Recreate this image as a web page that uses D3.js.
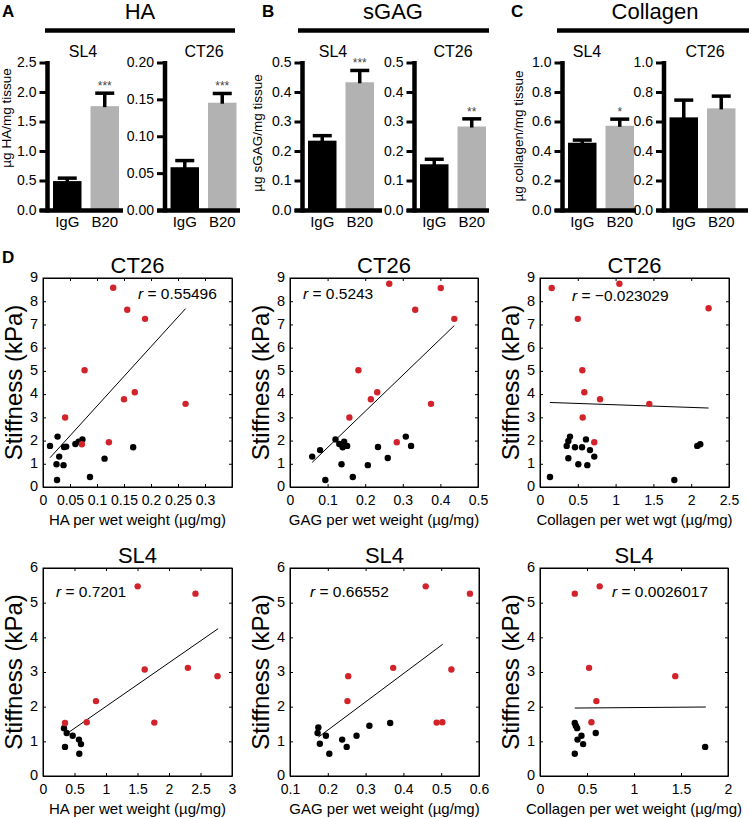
<!DOCTYPE html>
<html><head><meta charset="utf-8">
<script src="https://cdn.jsdelivr.net/npm/d3@7"></script>
<style>
body{margin:0;background:#fff;}
svg{display:block;font-family:"Liberation Sans",Arial,Helvetica,sans-serif;}
</style></head><body>
<svg id="c" width="749" height="819"></svg>
<script>
// ---------------- DATA: bar charts (A–C) ----------------
const groups = ["IgG", "B20"];
const haSL4 = [0.49, 1.76],   haSL4Err = [0.05, 0.22];
const haCT26 = [0.058, 0.1455], haCT26Err = [0.009, 0.0125];
const gagSL4 = [0.235, 0.433], gagSL4Err = [0.017, 0.04];
const gagCT26 = [0.155, 0.283], gagCT26Err = [0.017, 0.026];
const colSL4 = [0.456, 0.571], colSL4Err = [0.018, 0.045];
const colCT26 = [0.628, 0.689], colCT26Err = [0.117, 0.083];
const haSL4Stars = ["", "***"], haCT26Stars = ["", "***"];
const gagSL4Stars = ["", "***"], gagCT26Stars = ["", "**"];
const colSL4Stars = ["", "*"], colCT26Stars = ["", ""];
const haSL4Ticks = [0, 0.5, 1, 1.5, 2, 2.5];
const haCT26Ticks = [0, 0.05, 0.10, 0.15, 0.20];
const gagTicks = [0, 0.1, 0.2, 0.3, 0.4, 0.5];
const colTicks = [0, 0.2, 0.4, 0.6, 0.8, 1.0];

// ---------------- DATA: scatter plots (D) ----------------
const ct26YTicks = [0,1,2,3,4,5,6,7,8,9];
const sl4YTicks = [0,1,2,3,4,5,6];
const ct26HaTicks = [0, 0.05, 0.1, 0.15, 0.2, 0.25, 0.3];
const ct26GagTicks = [0, 0.1, 0.2, 0.3, 0.4, 0.5];
const ct26ColTicks = [0, 0.5, 1, 1.5, 2, 2.5];
const sl4HaTicks = [0, 0.5, 1, 1.5, 2, 2.5, 3];
const sl4GagTicks = [0.1, 0.2, 0.3, 0.4, 0.5, 0.6];
const sl4ColTicks = [0, 0.5, 1, 1.5, 2];

const ct26HaIgG = [[0.013,1.77],[0.027,2.17],[0.030,1.31],[0.025,0.98],[0.026,0.30],[0.038,0.94],[0.039,1.72],[0.043,1.74],[0.060,1.85],[0.066,1.95],[0.073,2.05],[0.087,0.43],[0.114,1.22],[0.167,1.71]];
const ct26HaB20 = [[0.130,8.58],[0.156,7.63],[0.189,7.24],[0.077,5.03],[0.041,2.99],[0.072,1.84],[0.122,1.93],[0.150,3.78],[0.170,4.08],[0.264,3.58]];
const ct26HaFit = [[0.013,1.26],[0.264,7.68]];

const ct26GagIgG = [[0.059,1.31],[0.080,1.59],[0.094,0.30],[0.121,2.05],[0.131,1.85],[0.137,0.98],[0.140,1.71],[0.144,1.95],[0.152,1.77],[0.167,0.43],[0.207,0.94],[0.234,1.72],[0.260,1.25],[0.308,2.17],[0.322,1.77]];
const ct26GagB20 = [[0.264,8.75],[0.401,8.57],[0.333,7.63],[0.437,7.24],[0.182,5.03],[0.232,4.08],[0.215,3.78],[0.158,2.99],[0.375,3.58],[0.284,1.93]];
const ct26GagFit = [[0.059,1.06],[0.437,6.95]];

const ct26ColIgG = [[0.132,0.43],[0.353,1.77],[0.375,1.98],[0.397,2.17],[0.375,1.24],[0.463,1.71],[0.507,0.98],[0.556,1.71],[0.608,2.05],[0.626,0.94],[0.661,1.59],[0.718,1.31],[1.777,0.30],[2.08,1.77],[2.12,1.84]];
const ct26ColB20 = [[0.155,8.57],[1.05,8.75],[2.23,7.7],[0.50,7.24],[0.56,5.03],[0.586,4.08],[0.794,3.78],[1.446,3.58],[0.565,2.99],[0.718,1.93]];
const ct26ColFit = [[0.13,3.64],[2.23,3.40]];

const sl4HaIgG = [[0.333,1.38],[0.376,1.24],[0.349,0.84],[0.471,1.16],[0.571,1.05],[0.603,0.92],[0.576,0.64]];
const sl4HaB20 = [[0.349,1.53],[0.694,1.55],[0.841,2.16],[1.503,5.47],[1.614,3.07],[1.767,1.54],[2.30,3.12],[2.42,5.26],[2.77,2.88]];
const sl4HaFit = [[0.376,1.22],[2.78,4.25]];

const sl4GagIgG = [[0.173,1.24],[0.175,1.40],[0.179,0.93],[0.195,1.16],[0.204,0.64],[0.238,1.05],[0.250,0.84],[0.276,1.16],[0.310,1.45],[0.365,1.53]];
const sl4GagB20 = [[0.254,2.88],[0.252,2.16],[0.373,3.12],[0.459,5.47],[0.488,1.54],[0.503,1.55],[0.527,3.07],[0.576,5.26]];
const sl4GagFit = [[0.175,1.12],[0.504,3.80]];

const sl4ColIgG = [[0.370,1.53],[0.381,1.45],[0.395,1.38],[0.399,1.05],[0.370,0.64],[0.441,1.16],[0.459,0.92],[0.593,1.24],[1.757,0.84]];
const sl4ColB20 = [[0.370,5.26],[0.635,5.47],[0.522,3.12],[0.600,2.16],[0.547,1.55],[1.439,2.88]];
const sl4ColFit = [[0.370,1.96],[1.764,1.99]];

const rValues = ["0.55496", "0.5243", "\u22120.023029", "0.7201", "0.66552", "0.0026017"];

// ---------------- DRAWING ----------------
const svg = d3.select("#c");
const FONT = '"Liberation Sans",Arial,Helvetica,sans-serif';
const RED = "#d2232a";

function txt(g, x, y, s, size, anchor, weight) {
  return g.append("text").attr("x", x).attr("y", y).text(s)
    .attr("font-size", size).attr("text-anchor", anchor || "start")
    .attr("font-weight", weight || "normal").attr("fill", "#000");
}

function barChart(o) {
  const g = svg.append("g");
  const y = d3.scaleLinear().domain([0, o.max]).range([210, 62.5]);
  const x = d3.scaleBand().domain(groups).range([o.axisX, o.axisX + 77])
    .paddingInner(0.24).paddingOuter(0.147);
  g.selectAll("rect.bar").data(groups).join("rect")
    .attr("x", d => x(d)).attr("width", x.bandwidth())
    .attr("y", (d, i) => y(o.vals[i]))
    .attr("height", (d, i) => y(0) - y(o.vals[i]))
    .attr("fill", (d, i) => i ? "#b2b2b2" : "#000");
  groups.forEach((d, i) => {
    const cx = x(d) + x.bandwidth() / 2;
    const top = y(o.vals[i] + o.errs[i]);
    g.append("line").attr("x1", cx).attr("x2", cx).attr("y1", y(o.vals[i]) + 1).attr("y2", top)
      .attr("stroke", "#000").attr("stroke-width", 3.5);
    g.append("line").attr("x1", cx - 9.5).attr("x2", cx + 9.5).attr("y1", top).attr("y2", top)
      .attr("stroke", "#000").attr("stroke-width", 3.5);
    if (o.stars[i]) txt(g, cx, top - 3, o.stars[i], 12, "middle").attr("fill", "#444");
    txt(g, cx, 227, d, 15, "middle");
  });
  const ax = d3.axisLeft(y).tickValues(o.ticks).tickFormat(d3.format("." + o.dec + "f"))
    .tickSize(8).tickPadding(3);
  const ag = g.append("g").attr("transform", `translate(${o.axisX},0)`).call(ax);
  ag.select(".domain").remove();
  ag.selectAll(".tick line").attr("stroke", "#000").attr("stroke-width", 3);
  ag.selectAll(".tick text").attr("font-size", 14).attr("font-family", FONT).attr("fill", "#000");
  g.append("line").attr("x1", o.axisX).attr("x2", o.axisX).attr("y1", y(o.max) - 1.5).attr("y2", 212.5)
    .attr("stroke", "#000").attr("stroke-width", 4.5);
  g.append("line").attr("x1", o.axisX - 8).attr("x2", o.axisEnd).attr("y1", 210.5).attr("y2", 210.5)
    .attr("stroke", "#000").attr("stroke-width", 4.5);
  txt(g, o.titleX, 57, o.title, 16, "middle");
}

function header(letter, lx, title, tx, l0, l1, ylabel, ylx, yly) {
  txt(svg, lx, 17, letter, 17, "start", "bold");
  txt(svg, tx, 19, title, 22, "middle");
  svg.append("line").attr("x1", l0).attr("x2", l1).attr("y1", 30.5).attr("y2", 30.5)
    .attr("stroke", "#000").attr("stroke-width", 4.5);
  svg.append("text").attr("transform", `translate(${ylx},${yly}) rotate(-90)`)
    .attr("text-anchor", "middle").attr("font-size", 13.5).text(ylabel);
}

header("A", 2, "HA", 140, 45, 235, "\u00b5g HA/mg tissue", 11, 118);
header("B", 262, "sGAG", 393, 298, 489, "\u00b5g sGAG/mg tissue", 262, 133);
header("C", 511, "Collagen", 655, 557, 749, "\u00b5g collagen/mg tissue", 523, 136);

barChart({axisX: 47.5, axisEnd: 123, vals: haSL4, errs: haSL4Err, max: 2.5, ticks: haSL4Ticks, dec: 1, stars: haSL4Stars, title: "SL4", titleX: 83});
barChart({axisX: 165, axisEnd: 240, vals: haCT26, errs: haCT26Err, max: 0.2, ticks: haCT26Ticks, dec: 2, stars: haCT26Stars, title: "CT26", titleX: 204});
barChart({axisX: 302.5, axisEnd: 382, vals: gagSL4, errs: gagSL4Err, max: 0.5, ticks: gagTicks, dec: 1, stars: gagSL4Stars, title: "SL4", titleX: 333});
barChart({axisX: 414.5, axisEnd: 489, vals: gagCT26, errs: gagCT26Err, max: 0.5, ticks: gagTicks, dec: 1, stars: gagCT26Stars, title: "CT26", titleX: 453});
barChart({axisX: 562.5, axisEnd: 636, vals: colSL4, errs: colSL4Err, max: 1.0, ticks: colTicks, dec: 1, stars: colSL4Stars, title: "SL4", titleX: 587});
barChart({axisX: 664, axisEnd: 748, vals: colCT26, errs: colCT26Err, max: 1.0, ticks: colTicks, dec: 1, stars: colCT26Stars, title: "CT26", titleX: 705});

// ---- scatter plots ----
function styleAxis(ag, size) {
  ag.attr("font-family", FONT).attr("font-size", size);
  ag.select(".domain").attr("stroke", "#000").attr("stroke-width", 1);
  ag.selectAll(".tick line").attr("stroke", "#000").attr("stroke-width", 1);
  ag.selectAll(".tick text").attr("fill", "#000");
  return ag;
}
const tfmt = d => String(+d.toFixed(3));

function scatter(o) {
  const g = svg.append("g");
  const x = d3.scaleLinear().domain(o.xDom).range([o.bx0, o.bx1]);
  const y = d3.scaleLinear().domain([0, o.yMax]).range([o.by1, o.by0]);
  g.append("rect").attr("x", o.bx0).attr("y", o.by0).attr("width", o.bx1 - o.bx0).attr("height", o.by1 - o.by0)
    .attr("fill", "#fff").attr("stroke", "#000").attr("stroke-width", 1);
  styleAxis(g.append("g").attr("transform", `translate(0,${o.by1})`)
    .call(d3.axisBottom(x).tickValues(o.xTicks).tickFormat(tfmt).tickSize(-3).tickSizeOuter(0).tickPadding(8)), 14);
  styleAxis(g.append("g").attr("transform", `translate(0,${o.by0})`)
    .call(d3.axisTop(x).tickValues(o.xTicks).tickFormat("").tickSize(-3).tickSizeOuter(0)), 14);
  styleAxis(g.append("g").attr("transform", `translate(${o.bx0},0)`)
    .call(d3.axisLeft(y).tickValues(o.yTicks).tickFormat(d3.format("d")).tickSize(-3).tickSizeOuter(0).tickPadding(5)), 14.5)
    .selectAll(".tick text").attr("dy", "0.26em");
  styleAxis(g.append("g").attr("transform", `translate(${o.bx1},0)`)
    .call(d3.axisRight(y).tickValues(o.yTicks).tickFormat("").tickSize(-3).tickSizeOuter(0)), 14);
  g.append("path").datum(o.fit).attr("d", d3.line().x(d => x(d[0])).y(d => y(d[1])))
    .attr("fill", "none").attr("stroke", "#000").attr("stroke-width", 1);
  g.selectAll("circle.igg").data(o.igg).join("circle").attr("cx", d => x(d[0])).attr("cy", d => y(d[1]))
    .attr("r", 3.2).attr("fill", "#000");
  g.selectAll("circle.b20").data(o.b20).join("circle").attr("cx", d => x(d[0])).attr("cy", d => y(d[1]))
    .attr("r", 3.2).attr("fill", RED);
  const t = g.append("text").attr("x", o.rx).attr("y", o.ry).attr("font-size", 15.5);
  t.append("tspan").attr("font-style", "italic").text("r");
  t.append("tspan").text(" = " + o.r);
  txt(g, (o.bx0 + o.bx1) / 2, o.by0 - 5, o.title, 22, "middle");
  txt(g, (o.bx0 + o.bx1) / 2, o.by1 + 38, o.xLabel, 15, "middle");
  g.append("text").attr("transform", `translate(${o.bx0 - 21},${(o.by0 + o.by1) / 2}) rotate(-90)`)
    .attr("text-anchor", "middle").attr("font-size", 24).text("Stiffness (kPa)");
}

txt(svg, 2, 263, "D", 17, "start", "bold");
const row1 = {by0: 278, by1: 487, yMax: 9, yTicks: ct26YTicks, title: "CT26"};
const row2 = {by0: 568, by1: 776, yMax: 6, yTicks: sl4YTicks, title: "SL4"};
scatter({...row1, bx0: 43, bx1: 232, xDom: [0, 0.35], xTicks: ct26HaTicks, igg: ct26HaIgG, b20: ct26HaB20, fit: ct26HaFit,
  r: rValues[0], rx: 138, ry: 299, xLabel: "HA per wet weight (\u00b5g/mg)"});
scatter({...row1, bx0: 290, bx1: 478, xDom: [0, 0.5], xTicks: ct26GagTicks, igg: ct26GagIgG, b20: ct26GagB20, fit: ct26GagFit,
  r: rValues[1], rx: 303, ry: 299, xLabel: "GAG per wet weight (\u00b5g/mg)"});
scatter({...row1, bx0: 540, bx1: 729, xDom: [0, 2.5], xTicks: ct26ColTicks, igg: ct26ColIgG, b20: ct26ColB20, fit: ct26ColFit,
  r: rValues[2], rx: 572, ry: 301, xLabel: "Collagen per wet wgt (\u00b5g/mg)"});
scatter({...row2, bx0: 43, bx1: 232, xDom: [0, 3], xTicks: sl4HaTicks, igg: sl4HaIgG, b20: sl4HaB20, fit: sl4HaFit,
  r: rValues[3], rx: 56, ry: 597, xLabel: "HA per wet weight (\u00b5g/mg)"});
scatter({...row2, bx0: 290, bx1: 479, xDom: [0.1, 0.6], xTicks: sl4GagTicks, igg: sl4GagIgG, b20: sl4GagB20, fit: sl4GagFit,
  r: rValues[4], rx: 310, ry: 597, xLabel: "GAG per wet weight (\u00b5g/mg)"});
scatter({...row2, bx0: 540, bx1: 728, xDom: [0, 2], xTicks: sl4ColTicks, igg: sl4ColIgG, b20: sl4ColB20, fit: sl4ColFit,
  r: rValues[5], rx: 612, ry: 597, xLabel: "Collagen per wet weight (\u00b5g/mg)"});
</script>
</body></html>
